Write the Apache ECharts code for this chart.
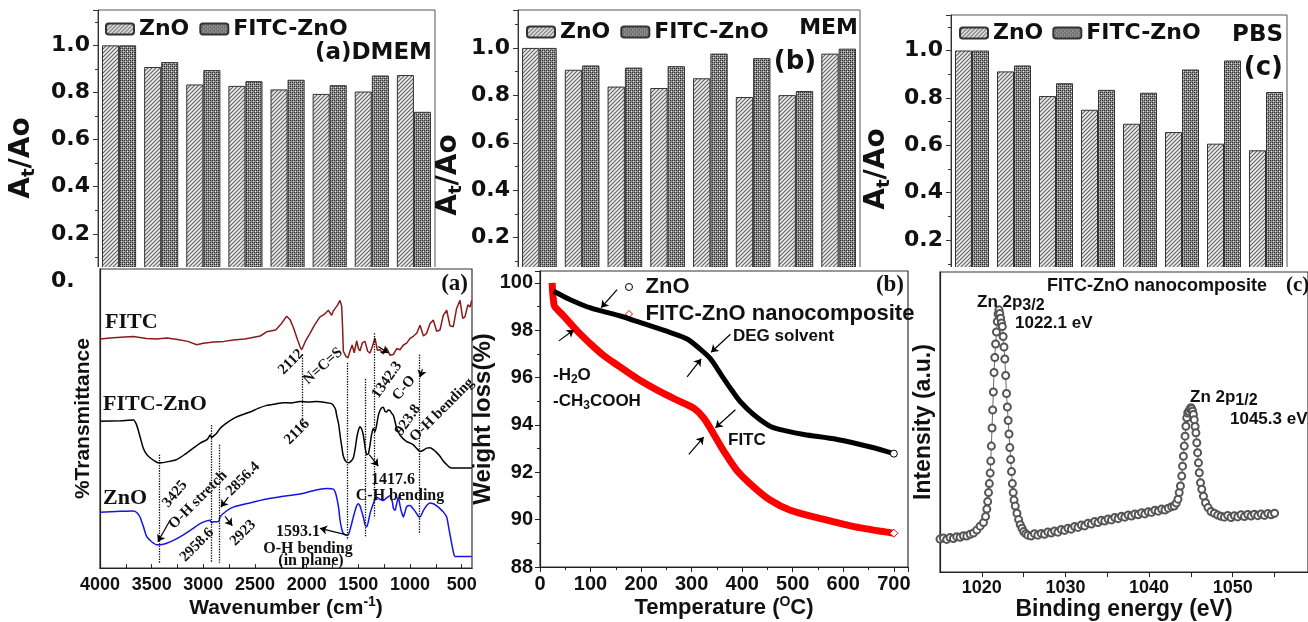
<!DOCTYPE html>
<html lang="en">
<head>
    <meta charset="UTF-8">
    <title>FITC-ZnO: stability, FTIR, TGA, XPS</title>
    <script type="text/javascript" src="https://cdn.jsdelivr.net/npm/echarts@6.0.0/dist/echarts.min.js"></script>
    <style>
        body {margin: 0; background: #fff;}
        #wrap {position: relative; width: 1308px; height: 622px; overflow: hidden;}
        #top, #bottom {position: absolute; left: 0; top: 0; width: 1308px; height: 622px;}
        #cover {position: absolute; left: 73px; top: 267px; width: 1235px; height: 355px; background: #fff;}
    </style>
</head>
<body>
<div id="wrap">
    <div id="top"></div>
    <div id="cover"></div>
    <div id="bottom"></div>
</div>
<script type="text/javascript">
    // ---------- data: top row, At/Ao per time point ----------
    var cats = ['1', '2', '3', '4', '5', '6', '7', '8'];
    var dmemZnO  = [1.0, 0.908, 0.834, 0.828, 0.813, 0.794, 0.804, 0.874];
    var dmemFitc = [1.0, 0.929, 0.895, 0.848, 0.854, 0.831, 0.872, 0.718];
    var memZnO   = [1.0, 0.908, 0.837, 0.831, 0.872, 0.793, 0.801, 0.976];
    var memFitc  = [1.0, 0.926, 0.917, 0.923, 0.976, 0.957, 0.818, 0.997];
    var pbsZnO   = [1.0, 0.912, 0.808, 0.750, 0.691, 0.656, 0.607, 0.579];
    var pbsFitc  = [1.0, 0.937, 0.862, 0.834, 0.822, 0.920, 0.958, 0.825];

    // ---------- data: FTIR (wavenumber, %T arbitrary offset) ----------
    var ftirFitc = [[4000,76.6],[3900,76.9],[3800,77.2],[3677,77.4],[3550,76.8],[3450,76.6],[3355,76.9],[3250,76.4],[3150,75.8],[3064,74.7],[3000,75.2],[2900,75.6],[2800,75.8],[2710,76.3],[2600,76.6],[2548,76.9],[2450,77.6],[2387,79.0],[2300,79.6],[2250,81.5],[2194,84.2],[2160,83.0],[2129,80.5],[2090,76.5],[2064,74.0],[2048,73.0],[2010,76.0],[1968,78.5],[1920,81.5],[1871,84.0],[1830,84.8],[1790,86.2],[1758,84.5],[1742,86.0],[1700,88.0],[1677,89.5],[1661,87.5],[1652,80.0],[1645,72.5],[1620,70.8],[1600,70.3],[1581,72.5],[1560,74.6],[1540,72.0],[1516,76.0],[1500,73.5],[1484,72.6],[1460,75.4],[1435,75.8],[1410,72.5],[1387,71.9],[1365,74.0],[1339,76.9],[1315,72.8],[1290,73.0],[1258,71.6],[1226,73.6],[1194,71.2],[1161,71.4],[1129,73.4],[1097,73.0],[1064,74.6],[1032,75.2],[1000,76.8],[968,77.5],[935,78.5],[903,81.2],[870,77.6],[839,78.5],[806,81.8],[774,82.9],[742,79.2],[710,79.6],[678,84.5],[645,86.2],[613,81.0],[581,80.7],[549,86.8],[516,89.5],[490,83.5],[468,84.0],[440,88.0],[419,87.3],[403,89.5]];
    var ftirFitcZnO = [[4000,49.1],[3800,49.3],[3677,49.5],[3645,47.8],[3613,44.0],[3581,40.1],[3548,38.0],[3516,36.9],[3450,35.4],[3419,35.2],[3340,35.6],[3258,36.3],[3180,38.0],[3097,40.1],[3030,41.8],[2968,42.9],[2950,43.6],[2935,44.5],[2920,43.7],[2900,44.2],[2871,45.1],[2839,46.7],[2780,48.4],[2710,50.0],[2630,51.2],[2548,52.2],[2470,53.4],[2387,54.4],[2300,54.9],[2226,55.3],[2150,55.2],[2064,55.7],[1980,55.5],[1903,55.7],[1820,55.4],[1760,55.0],[1742,54.4],[1720,53.0],[1710,51.1],[1690,48.0],[1677,44.5],[1660,40.5],[1645,37.4],[1620,35.6],[1597,35.2],[1575,35.6],[1548,36.9],[1530,40.0],[1516,43.4],[1500,46.0],[1484,47.3],[1468,46.5],[1452,44.5],[1435,40.5],[1419,37.9],[1403,38.2],[1387,41.2],[1371,44.8],[1355,46.7],[1339,45.6],[1323,47.8],[1307,51.0],[1290,52.7],[1274,53.6],[1258,53.8],[1242,52.4],[1226,52.2],[1210,52.9],[1194,52.7],[1178,51.8],[1161,51.1],[1145,49.0],[1129,46.7],[1113,45.5],[1097,44.5],[1064,43.2],[1032,42.3],[1000,41.8],[968,41.2],[935,40.0],[903,39.0],[871,39.4],[839,40.1],[806,40.2],[774,39.6],[742,38.6],[710,37.4],[678,35.8],[645,34.6],[620,33.8],[597,33.5],[500,33.5],[403,33.5]];
    var ftirZnO = [[4000,18.7],[3800,19.0],[3677,19.1],[3645,18.6],[3613,17.1],[3581,14.0],[3548,10.5],[3500,8.8],[3452,7.8],[3400,7.9],[3355,8.3],[3270,9.6],[3193,11.1],[3110,13.0],[3032,14.9],[2968,15.8],[2935,16.0],[2920,15.2],[2903,15.5],[2871,15.5],[2850,15.6],[2839,17.1],[2780,19.0],[2710,20.4],[2550,21.8],[2387,23.1],[2226,24.0],[2064,24.8],[1968,25.6],[1871,26.4],[1800,26.6],[1742,26.4],[1725,25.5],[1710,23.7],[1690,20.0],[1677,16.0],[1660,13.0],[1645,11.6],[1620,11.0],[1597,11.1],[1575,13.5],[1548,17.1],[1520,20.5],[1500,21.5],[1484,20.8],[1468,19.0],[1452,17.1],[1435,14.5],[1419,13.8],[1403,15.5],[1387,18.2],[1355,21.5],[1323,23.7],[1290,23.0],[1258,22.6],[1226,23.5],[1194,24.2],[1170,22.0],[1161,20.0],[1145,19.3],[1129,21.5],[1113,23.7],[1097,21.0],[1080,18.5],[1064,17.1],[1048,18.8],[1032,20.5],[1000,20.9],[968,19.8],[935,18.2],[919,17.3],[903,17.1],[871,19.2],[839,20.9],[806,21.8],[774,21.5],[742,20.8],[710,19.9],[678,18.8],[645,17.1],[620,12.5],[597,8.3],[581,5.5],[565,3.9],[500,3.9],[403,3.9]];
    var ftirTicks = [4000, 3500, 3000, 2500, 2000, 1500, 1000, 500];
    // dotted guide lines: [wavenumber, from, to]
    var ftirGuides = [[3425,37.9,1.75],[2926,47.8,1.75],[2850,41.2,1.75],[2042,70.3,46.7],[1603,68.6,9.4],[1429,63.2,10.5],[1348,78.5,17.1],[910,71.4,11.6]];

    // ---------- data: TGA (temperature, weight %) ----------
    var tgaZnO = [[27,99.64],[34,99.57],[60,99.29],[100,98.94],[159,98.6],[199,98.32],[258,97.9],[291,97.63],[317,97.2],[337,96.8],[357,96.17],[377,95.54],[396,94.99],[423,94.43],[456,93.94],[489,93.74],[522,93.6],[588,93.39],[654,93.07],[700,92.79]];
    var tgaFitc = [[24,100.0],[25,99.6],[27,99.2],[29,99.0],[47,98.6],[73.5,97.97],[100,97.42],[126,96.93],[159,96.44],[192,95.96],[232,95.47],[271,95.05],[304,94.71],[324,94.29],[344,93.6],[363.5,92.9],[390,92.07],[423,91.38],[456,90.82],[495,90.4],[555,90.05],[621,89.71],[700,89.43]];

    // ---------- data: XPS Zn 2p (binding energy, intensity a.u.) ----------
    var xpsData = [[1015.0,11.0],[1015.4,11.4],[1015.8,10.9],[1016.2,11.5],[1016.6,11.2],[1017.0,11.8],[1017.4,11.6],[1017.8,12.1],[1018.2,12.0],[1018.6,12.6],[1019.0,13.0],[1019.4,14.0],[1019.8,15.3],
        [1020.2,16.5],[1020.45,18.5],[1020.6,21.0],[1020.7,23.5],[1020.8,26.5],[1020.9,29.5],[1021.0,33.0],[1021.07,37.0],[1021.14,42.0],[1021.22,48.0],[1021.3,54.0],[1021.38,60.0],[1021.46,66.5],[1021.55,71.5],[1021.65,76.0],[1021.75,80.0],[1021.85,83.5],[1021.95,86.0],[1022.05,87.4],[1022.15,86.2],
        [1022.25,84.6],[1022.35,83.0],[1022.45,81.8],[1022.55,78.5],[1022.65,75.0],[1022.75,71.0],[1022.85,65.5],[1022.95,59.5],[1023.05,55.0],[1023.15,50.5],[1023.25,46.0],[1023.35,41.5],[1023.45,37.5],[1023.55,33.5],[1023.65,29.5],[1023.75,26.5],[1023.85,24.0],[1024.0,22.0],[1024.2,19.6],[1024.4,17.5],[1024.6,15.8],[1024.8,14.6],[1025.0,13.5],[1025.25,12.8],[1025.5,12.3],
        [1025.9,12.0],[1026.3,12.8],[1026.7,12.3],[1027.1,12.9],[1027.5,12.6],[1027.9,13.4],[1028.3,13.0],[1028.7,13.7],[1029.1,13.3],[1029.5,14.2],[1029.9,13.9],[1030.3,14.6],[1030.7,14.3],[1031.1,15.2],[1031.5,14.9],[1031.9,15.7],[1032.3,15.4],[1032.7,16.3],[1033.1,16.0],[1033.5,16.9],[1033.9,16.5],[1034.3,17.3],[1034.7,17.0],[1035.1,17.7],[1035.5,17.4],[1035.9,18.2],[1036.3,17.8],[1036.7,18.6],[1037.1,18.3],[1037.5,19.0],[1037.9,18.7],[1038.3,19.4],[1038.7,19.1],[1039.1,19.8],[1039.5,19.4],[1039.9,20.1],[1040.3,19.9],[1040.7,20.6],[1041.1,20.3],[1041.5,21.0],[1041.9,20.7],[1042.3,21.3],[1042.7,21.8],
        [1043.0,22.0],[1043.25,23.0],[1043.45,24.3],[1043.6,26.5],[1043.75,28.7],[1043.9,32.0],[1044.0,35.3],[1044.1,38.6],[1044.2,42.0],[1044.3,45.3],[1044.4,48.6],[1044.5,51.4],[1044.62,53.0],[1044.75,53.6],[1044.9,54.4],[1045.0,54.8],[1045.1,54.4],[1045.2,53.6],[1045.3,52.5],[1045.4,50.8],[1045.5,48.5],[1045.6,46.4],[1045.7,43.1],[1045.8,39.8],[1045.9,36.4],[1046.0,33.1],[1046.15,29.8],[1046.3,27.6],[1046.5,25.3],[1046.75,23.1],[1047.05,21.5],[1047.4,20.2],[1047.8,19.6],[1048.2,19.0],[1048.6,18.6],
        [1049.0,18.3],[1049.4,18.9],[1049.8,18.2],[1050.2,18.8],[1050.6,18.4],[1051.0,19.1],[1051.4,18.5],[1051.8,19.2],[1052.2,18.7],[1052.6,19.3],[1053.0,18.8],[1053.4,19.4],[1053.8,18.9],[1054.2,19.5],[1054.6,19.1],[1055.0,19.6]];
    var xpsLabels = [1020, 1030, 1040, 1050];
    var xpsTicks = [1020, 1025, 1030, 1035, 1040, 1045, 1050, 1055];

    var SANS_W = '"DejaVu Sans"';
    var SANS = '"Liberation Sans", Arial';
    var SERIF = '"Liberation Serif", "Times New Roman"';

    // plain numbers, no thousands separator
    function plain(v) { return String(v); }

    // bar fill patterns
    function makeHatch() {
        var c = document.createElement('canvas');
        c.width = 4; c.height = 4;
        var g = c.getContext('2d');
        g.fillStyle = '#ececec';
        g.fillRect(0, 0, 4, 4);
        g.strokeStyle = '#626262';
        g.lineWidth = 1.1;
        g.beginPath();
        g.moveTo(-1, 5); g.lineTo(5, -1);
        g.moveTo(-1, 1); g.lineTo(1, -1);
        g.moveTo(3, 5); g.lineTo(5, 3);
        g.stroke();
        return c;
    }
    function makeMesh() {
        var c = document.createElement('canvas');
        c.width = 4; c.height = 4;
        var g = c.getContext('2d');
        g.fillStyle = '#8e8e8e';
        g.fillRect(0, 0, 4, 4);
        g.fillStyle = '#2b2b2b';
        g.fillRect(0, 0, 1, 1); g.fillRect(2, 2, 1, 1); g.fillRect(2, 0, 1, 1); g.fillRect(0, 2, 1, 1);
        g.fillStyle = '#dcdcdc';
        g.fillRect(1, 1, 1, 1); g.fillRect(3, 3, 1, 1);
        return c;
    }
    var hatch = {image: makeHatch(), repeat: 'repeat'};
    var mesh = {image: makeMesh(), repeat: 'repeat'};

    function txt(x, y, s, font, deg, align, rich) {
        return {
            type: 'text', x: x, y: y, z: 50,
            rotation: (deg || 0) * Math.PI / 180,
            style: {text: s, font: font, fill: '#111', textAlign: align || 'center', textVerticalAlign: 'middle', rich: rich}
        };
    }

    // ================= top row =================
    var topChart = echarts.init(document.getElementById('top'));
    var topGrids = [
        {left: 98, top: 10, width: 337, height: 271, max: 1.15},
        {left: 518, top: 10, width: 342, height: 275, max: 1.16},
        {left: 951, top: 15, width: 336, height: 272.5, max: 1.15}
    ];
    var topSeriesData = [[dmemZnO, dmemFitc], [memZnO, memFitc], [pbsZnO, pbsFitc]];
    var topLabel = {fontFamily: SANS_W, fontWeight: 'bold', fontSize: 22, color: '#111'};
    var atRich = {
        a: {font: 'bold 28px ' + SANS_W, lineHeight: 32},
        s: {font: 'bold 18px ' + SANS_W, lineHeight: 18, verticalAlign: 'bottom'}
    };

    var topSeries = [];
    topSeriesData.forEach(function (pair, i) {
        topSeries.push({
            name: 'ZnO', type: 'bar', xAxisIndex: i, yAxisIndex: i, data: pair[0],
            barGap: '0%', barCategoryGap: '19%',
            itemStyle: {color: hatch, borderColor: '#333', borderWidth: 1}
        });
        topSeries.push({
            name: 'FITC-ZnO', type: 'bar', xAxisIndex: i, yAxisIndex: i, data: pair[1],
            barGap: '0%', barCategoryGap: '19%',
            itemStyle: {color: mesh, borderColor: '#333', borderWidth: 1}
        });
    });

    var topOption = {
        animation: false,
        grid: topGrids.map(function (g) {
            return {left: g.left, top: g.top, width: g.width, height: g.height, show: true, borderColor: '#555', borderWidth: 1};
        }),
        xAxis: topGrids.map(function (g, i) {
            return {type: 'category', gridIndex: i, data: cats, axisLine: {show: false}, axisTick: {show: false}, axisLabel: {show: false}};
        }),
        yAxis: topGrids.map(function (g, i) {
            return {
                type: 'value', gridIndex: i, min: 0, max: g.max, interval: 0.2,
                axisLine: {show: true, lineStyle: {color: '#333'}},
                axisTick: {show: true, inside: false, length: 5, lineStyle: {color: '#333'}},
                minorTick: {show: true, splitNumber: 2, length: 3, lineStyle: {color: '#333'}},
                splitLine: {show: false},
                axisLabel: Object.assign({margin: 8, showMaxLabel: false, formatter: function (v) { return v.toFixed(1); }}, topLabel)
            };
        }),
        legend: [
            {left: 100, top: 13, itemWidth: 28, itemHeight: 11, itemGap: 10, selectedMode: false, data: ['ZnO', 'FITC-ZnO'], textStyle: topLabel},
            {left: 521, top: 16, itemWidth: 28, itemHeight: 11, itemGap: 10, selectedMode: false, data: ['ZnO', 'FITC-ZnO'], textStyle: topLabel},
            {left: 954, top: 17, itemWidth: 28, itemHeight: 11, itemGap: 9, selectedMode: false, data: ['ZnO', 'FITC-ZnO'], textStyle: topLabel}
        ],
        graphic: [
            txt(432, 53, '(a)DMEM', 'bold 23px ' + SANS_W, 0, 'right'),
            txt(858, 28, 'MEM', 'bold 22px ' + SANS_W, 0, 'right'),
            txt(795, 62, '(b)', 'bold 26px ' + SANS_W),
            txt(1283, 35, 'PBS', 'bold 23px ' + SANS_W, 0, 'right'),
            txt(1283, 68, '(c)', 'bold 26px ' + SANS_W, 0, 'right'),
            txt(22, 158, '{a|A}{s|t}{a|/Ao}', '', 90, 'center', atRich),
            txt(449, 175, '{a|A}{s|t}{a|/Ao}', '', 90, 'center', atRich),
            txt(877, 169, '{a|A}{s|t}{a|/Ao}', '', 90, 'center', atRich)
        ],
        series: topSeries
    };
    topChart.setOption(topOption);

    // ================= bottom row =================
    var botChart = echarts.init(document.getElementById('bottom'));
    var axisDark = {lineStyle: {color: '#222', width: 1.2}};
    var supRich = {sup: {fontFamily: SANS, fontWeight: 'bold', fontSize: 14, lineHeight: 14, verticalAlign: 'top', color: '#111'}};
    var serif15 = 'bold 15px ' + SERIF;
    var serif16 = 'bold 16px ' + SERIF;
    var sans17 = 'bold 17px ' + SANS;
    var subRich17 = {
        n: {font: sans17, lineHeight: 22},
        s: {font: 'bold 12px ' + SANS, lineHeight: 12, verticalAlign: 'bottom'}
    };
    var xpsRich = {
        n: {font: 'bold 17px ' + SANS, lineHeight: 24},
        s: {font: 'bold 16px ' + SANS, lineHeight: 14, verticalAlign: 'bottom'}
    };

    function arrows(list) {
        return {
            silent: true, symbol: ['none', 'arrow'], symbolSize: 7,
            label: {show: false},
            lineStyle: {type: 'solid', color: '#000', width: 1.2},
            data: list.map(function (a) { return [{coord: a[0]}, {coord: a[1]}]; })
        };
    }

    var botOption = {
        animation: false,
        grid: [
            {left: 100, top: 269, width: 372, height: 303, show: true, borderColor: '#333', borderWidth: 1.2},
            {left: 540, top: 271, width: 368, height: 300, show: true, borderColor: '#333', borderWidth: 1.2},
            {left: 940, top: 272, width: 412, height: 301, show: true, borderColor: '#333', borderWidth: 1.2}
        ],
        xAxis: [
            {
                type: 'value', gridIndex: 0, inverse: true, min: 400, max: 4000,
                axisLine: axisDark, splitLine: {show: false},
                axisTick: {show: true, inside: true, length: 4, customValues: [4000,3750,3500,3250,3000,2750,2500,2250,2000,1750,1500,1250,1000,750,500]},
                axisLabel: {customValues: ftirTicks, formatter: plain, margin: 8, fontFamily: SANS, fontWeight: 'bold', fontSize: 18, color: '#111'},
                name: 'Wavenumber (cm{sup|-1})', nameLocation: 'middle', nameGap: 22,
                nameTextStyle: {fontFamily: SANS, fontWeight: 'bold', fontSize: 21, color: '#111', lineHeight: 26, rich: supRich}
            },
            {
                type: 'value', gridIndex: 1, min: 0, max: 728, interval: 100,
                axisLine: axisDark, splitLine: {show: false},
                axisTick: {show: true, inside: false, length: 5},
                minorTick: {show: true, splitNumber: 2, length: 3},
                axisLabel: {showMaxLabel: false, formatter: plain, margin: 7, fontFamily: SANS, fontWeight: 'bold', fontSize: 20, color: '#111'},
                name: 'Temperature ({sup|O}C)', nameLocation: 'middle', nameGap: 23,
                nameTextStyle: {fontFamily: SANS, fontWeight: 'bold', fontSize: 22, color: '#111', lineHeight: 26, rich: supRich}
            },
            {
                type: 'value', gridIndex: 2, min: 1015, max: 1059,
                axisLine: axisDark, splitLine: {show: false},
                axisTick: {show: true, inside: false, length: 5, customValues: xpsTicks},
                axisLabel: {customValues: xpsLabels, formatter: plain, margin: 7, fontFamily: SANS, fontWeight: 'bold', fontSize: 18, color: '#111'},
                name: 'Binding energy (eV)', nameLocation: 'middle', nameGap: 20,
                nameTextStyle: {fontFamily: SANS, fontWeight: 'bold', fontSize: 23, color: '#111'}
            }
        ],
        yAxis: [
            {
                type: 'value', gridIndex: 0, min: 0, max: 100,
                axisLine: axisDark, axisTick: {show: false}, axisLabel: {show: false}, splitLine: {show: false},
                name: '%Transmittance', nameLocation: 'middle', nameGap: 6,
                nameTextStyle: {fontFamily: SANS, fontWeight: 'bold', fontSize: 21, color: '#111'}
            },
            {
                type: 'value', gridIndex: 1, min: 88, max: 100.5, interval: 2,
                axisLine: axisDark, splitLine: {show: false},
                axisTick: {show: true, inside: false, length: 5},
                minorTick: {show: true, splitNumber: 2, length: 3},
                axisLabel: {showMaxLabel: false, margin: 7, fontFamily: SANS, fontWeight: 'bold', fontSize: 20, color: '#111'},
                name: 'Weight loss(%)', nameLocation: 'middle', nameGap: 35,
                nameTextStyle: {fontFamily: SANS, fontWeight: 'bold', fontSize: 24, color: '#111'}
            },
            {
                type: 'value', gridIndex: 2, min: 0, max: 100,
                axisLine: axisDark, axisTick: {show: false}, axisLabel: {show: false}, splitLine: {show: false},
                name: 'Intensity (a.u.)', nameLocation: 'middle', nameGap: 5,
                nameTextStyle: {fontFamily: SANS, fontWeight: 'bold', fontSize: 23, color: '#111'}
            }
        ],
        legend: {
            left: 620, top: 270, orient: 'vertical', itemGap: 3, itemWidth: 7, itemHeight: 7, selectedMode: false,
            textStyle: {fontFamily: SANS, fontWeight: 'bold', fontSize: 22, color: '#111', lineHeight: 24, padding: [0, 0, 0, 8]},
            data: [
                {name: 'ZnO', icon: 'circle', itemStyle: {color: '#fff', borderColor: '#000', borderWidth: 1}},
                {name: 'FITC-ZnO nanocomposite', icon: 'diamond', itemStyle: {color: '#fff', borderColor: '#f00', borderWidth: 1}}
            ]
        },
        graphic: [
            // FTIR
            txt(105, 322, 'FITC', 'bold 22px ' + SERIF, 0, 'left'),
            txt(103, 404, 'FITC-ZnO', 'bold 22px ' + SERIF, 0, 'left'),
            txt(103, 498, 'ZnO', 'bold 22px ' + SERIF, 0, 'left'),
            txt(468, 284, '(a)', 'bold 23px ' + SERIF, 0, 'right'),
            txt(175, 494, '3425', serif15, 50),
            txt(198, 500, 'O-H stretch', serif15, 45),
            txt(243, 479, '2856.4', serif15, 45),
            txt(197, 545, '2958.6', serif15, 45),
            txt(243, 533, '2923', serif15, 45),
            txt(291, 362, '2112', serif15, 45),
            txt(323, 366, 'N=C=S', serif15, 42),
            txt(297, 432, '2116', serif15, 45),
            txt(387, 380, '1342.3', serif15, 55),
            txt(404, 388, 'C-O', serif15, 50),
            txt(408, 420, '923.8', serif15, 55),
            txt(442, 410, 'O-H bending', serif15, 45),
            txt(393, 480, '1417.6', serif16),
            txt(400, 496, 'C-H bending', serif16),
            txt(298, 532, '1593.1', serif16),
            txt(308, 549, 'O-H bending', serif16),
            txt(311, 561, '(in plane)', serif16),
            // TGA
            txt(904, 285, '(b)', 'bold 23px ' + SERIF, 0, 'right'),
            txt(733, 336, 'DEG solvent', sans17, 0, 'left'),
            txt(553, 375, '{n|-H}{s|2}{n|O}', '', 0, 'left', subRich17),
            txt(553, 401, '{n|-CH}{s|3}{n|COOH}', '', 0, 'left', subRich17),
            txt(728, 440, 'FITC', sans17, 0, 'left'),
            // XPS
            txt(1047, 286, 'FITC-ZnO nanocomposite', 'bold 18px ' + SANS, 0, 'left'),
            txt(1286, 286, '(c)', 'bold 21px ' + SERIF, 0, 'left'),
            txt(977, 302, '{n|Zn 2p}{s|3/2}', '', 0, 'left', xpsRich),
            txt(1015, 323, '1022.1 eV', sans17, 0, 'left'),
            txt(1190, 397, '{n|Zn 2p}{s|1/2}', '', 0, 'left', xpsRich),
            txt(1230, 419, '1045.3 eV', sans17, 0, 'left')
        ],
        series: [
            {
                name: 'ZnO', type: 'line', xAxisIndex: 1, yAxisIndex: 1, data: tgaZnO,
                smooth: 0.3, symbol: 'none', z: 4,
                lineStyle: {color: '#000', width: 5}, itemStyle: {color: '#000'},
                markPoint: {
                    silent: true, symbol: 'circle', symbolSize: 7,
                    itemStyle: {color: '#fff', borderColor: '#000', borderWidth: 1},
                    label: {show: false},
                    data: [{coord: tgaZnO[tgaZnO.length - 1]}]
                },
                markLine: arrows([
                    [[152.6, 99.71], [121.0, 98.95]],
                    [[376.7, 97.83], [338.5, 97.07]],
                    [[291, 96.03], [318.8, 96.79]]
                ])
            },
            {
                name: 'FITC-ZnO nanocomposite', type: 'line', xAxisIndex: 1, yAxisIndex: 1, data: tgaFitc,
                smooth: 0.3, symbol: 'none', z: 3,
                lineStyle: {color: '#ff0000', width: 7}, itemStyle: {color: '#ff0000'},
                markPoint: {
                    silent: true, symbol: 'diamond', symbolSize: 8,
                    itemStyle: {color: '#fff', borderColor: '#f00', borderWidth: 1},
                    label: {show: false},
                    data: [{coord: tgaFitc[tgaFitc.length - 1]}]
                },
                markLine: arrows([
                    [[37.2, 97.55], [66.9, 98.01]],
                    [[386.6, 94.64], [347.1, 93.88]],
                    [[294.3, 92.76], [323.9, 93.49]]
                ])
            },
            {
                name: 'FITC', type: 'line', xAxisIndex: 0, yAxisIndex: 0, data: ftirFitc,
                symbol: 'none', lineStyle: {color: '#8b1a1a', width: 1.5}, itemStyle: {color: '#8b1a1a'},
                markLine: arrows([
                    [[1307, 74.1], [1210, 71.9]],
                    [[880, 66.5], [903, 63.8]]
                ])
            },
            {
                name: 'FITC-ZnO', type: 'line', xAxisIndex: 0, yAxisIndex: 0, data: ftirFitcZnO,
                smooth: 0.2, symbol: 'none', lineStyle: {color: '#000', width: 1.5}, itemStyle: {color: '#000'},
                markLine: {
                    silent: true, symbol: ['none', 'none'], label: {show: false},
                    lineStyle: {type: 'dotted', color: '#000', width: 1.3},
                    data: ftirGuides.map(function (d) { return [{coord: [d[0], d[1]]}, {coord: [d[0], d[2]]}]; })
                }
            },
            {
                name: 'ZnO', type: 'line', xAxisIndex: 0, yAxisIndex: 0, data: ftirZnO,
                smooth: 0.2, symbol: 'none', lineStyle: {color: '#1414e6', width: 1.5}, itemStyle: {color: '#1414e6'},
                markLine: arrows([
                    [[3322, 16.0], [3440, 8.8]],
                    [[2758, 23.7], [2830, 20.4]],
                    [[2790, 17.3], [2720, 14.2]],
                    [[1613, 11.1], [1871, 13.3]],
                    [[1394, 37.9], [1307, 34.1]]
                ])
            },
            {
                name: 'Zn 2p', type: 'line', xAxisIndex: 2, yAxisIndex: 2, data: xpsData,
                symbol: 'emptyCircle', symbolSize: 7, showAllSymbol: true,
                itemStyle: {color: '#555', borderWidth: 1},
                lineStyle: {color: '#444', width: 0.8}
            }
        ]
    };
    botChart.setOption(botOption);
</script>
</body>
</html>
